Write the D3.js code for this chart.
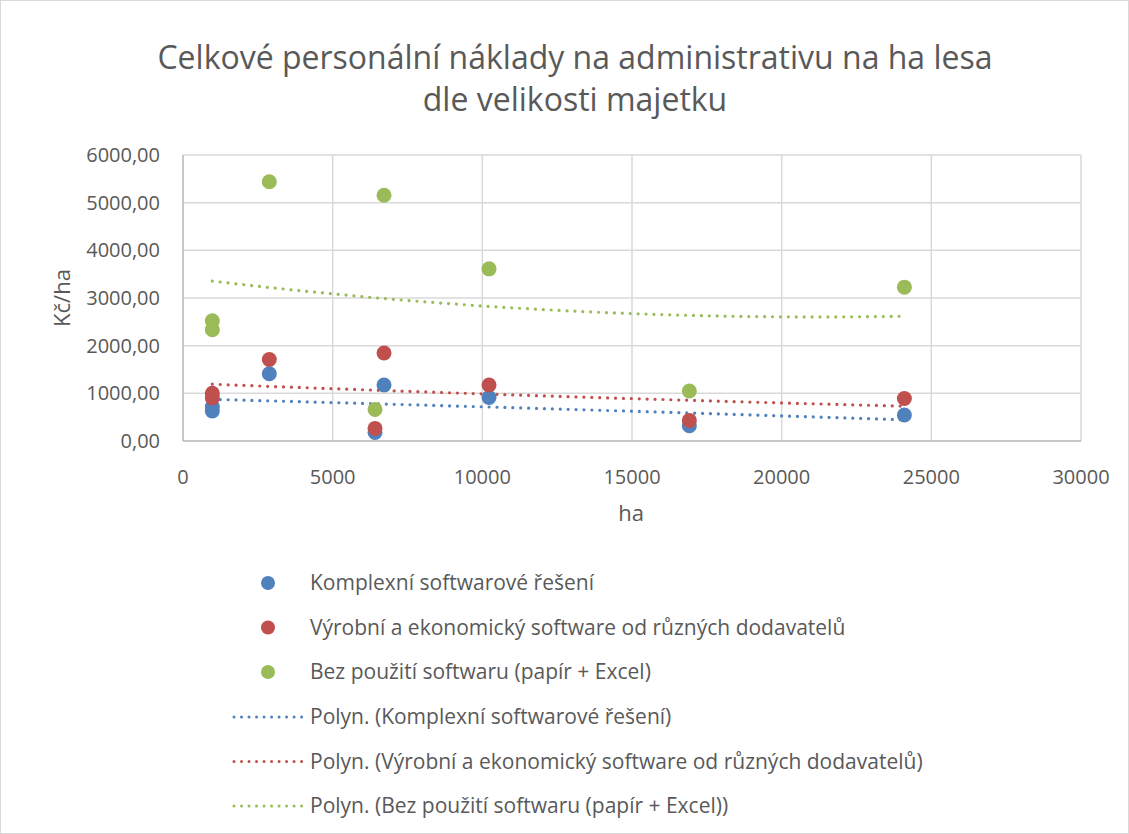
<!DOCTYPE html>
<html>
<head>
<meta charset="utf-8">
<script src="https://cdn.jsdelivr.net/npm/d3@7"></script>
<style>
  body { margin: 0; background: #fff; }
  text { font-family: "Open Sans", "Noto Sans", sans-serif; fill: #595959; }
</style>
</head>
<body>
<div id="chart"></div>
<script>
// values
var hectares = [980, 980, 2883, 6415, 6716, 10224, 16916, 24100];
var komplexni = [720, 630, 1411, 180, 1174, 914, 321, 545];
var vyrobni = [1000, 905, 1711, 264, 1845, 1174, 432, 893];
var bezSoftwaru = [2522, 2333, 5438, 663, 5157, 3612, 1048, 3228];
var seriesNames = [
  "Komplexní softwarové řešení",
  "Výrobní a ekonomický software od různých dodavatelů",
  "Bez použití softwaru (papír + Excel)"
];
var colors = ["#4F81BD", "#C0504D", "#9BBB59"];
var xTicks = [0, 5000, 10000, 15000, 20000, 25000, 30000];
var yTicks = [0, 1000, 2000, 3000, 4000, 5000, 6000];

var series = [komplexni, vyrobni, bezSoftwaru].map(function (vals, i) {
  return {
    name: seriesNames[i],
    color: colors[i],
    points: vals.map(function (v, j) { return { x: hectares[j], y: v }; })
  };
});

// quadratic least squares, as the Excel "Polyn." trendline does
function polyFit(pts) {
  var s = [0, 0, 0, 0, 0], t = [0, 0, 0];
  pts.forEach(function (p) {
    var xp = 1;
    for (var k = 0; k < 5; k++) { s[k] += xp; if (k < 3) t[k] += xp * p.y; xp *= p.x; }
  });
  var A = [[s[0], s[1], s[2], t[0]], [s[1], s[2], s[3], t[1]], [s[2], s[3], s[4], t[2]]];
  for (var c = 0; c < 3; c++) {
    for (var r = c + 1; r < 3; r++) {
      var f = A[r][c] / A[c][c];
      for (var k = c; k < 4; k++) A[r][k] -= f * A[c][k];
    }
  }
  var b = [0, 0, 0];
  for (var r = 2; r >= 0; r--) {
    var sum = A[r][3];
    for (var k = r + 1; k < 3; k++) sum -= A[r][k] * b[k];
    b[r] = sum / A[r][r];
  }
  return function (x) { return b[0] + b[1] * x + b[2] * x * x; };
}

var width = 1129, height = 834;
var margin = { top: 155, left: 183 };
var plotW = 898, plotH = 286;

var svg = d3.select("#chart").append("svg")
  .attr("width", width).attr("height", height);

var x = d3.scaleLinear().domain([0, 30000]).range([margin.left, margin.left + plotW]);
var y = d3.scaleLinear().domain([0, 6000]).range([margin.top + plotH, margin.top]);

var fmt = function (d) { return d3.format(".2f")(d).replace(".", ","); };

// title
svg.append("text")
  .attr("x", 575).attr("y", 69)
  .attr("text-anchor", "middle")
  .style("font-size", "32px").style("font-weight", 400)
  .selectAll("tspan")
  .data(["Celkové personální náklady na administrativu na ha lesa", "dle velikosti majetku"])
  .enter().append("tspan")
  .attr("x", 575).attr("dy", function (d, i) { return i ? 42 : 0; })
  .text(function (d) { return d; });

// gridlines
svg.append("g").selectAll("line").data(yTicks).enter().append("line")
  .attr("x1", margin.left).attr("x2", margin.left + plotW)
  .attr("y1", function (d) { return y(d); }).attr("y2", function (d) { return y(d); })
  .attr("stroke", "#d9d9d9").attr("stroke-width", 1.5);
svg.append("g").selectAll("line").data(xTicks).enter().append("line")
  .attr("y1", margin.top).attr("y2", margin.top + plotH)
  .attr("x1", function (d) { return x(d); }).attr("x2", function (d) { return x(d); })
  .attr("stroke", "#d9d9d9").attr("stroke-width", 1.5);

// axes lines
svg.append("line")
  .attr("x1", margin.left).attr("x2", margin.left + plotW)
  .attr("y1", y(0)).attr("y2", y(0))
  .attr("stroke", "#bfbfbf").attr("stroke-width", 1.5);
svg.append("line")
  .attr("x1", margin.left).attr("x2", margin.left)
  .attr("y1", y(0)).attr("y2", y(6000))
  .attr("stroke", "#bfbfbf").attr("stroke-width", 1.5);

// tick labels
svg.append("g").selectAll("text").data(yTicks).enter().append("text")
  .attr("x", 160).attr("y", function (d) { return y(d) + 7; })
  .attr("text-anchor", "end").style("font-size", "20px")
  .text(fmt);
svg.append("g").selectAll("text").data(xTicks).enter().append("text")
  .attr("x", function (d) { return x(d); }).attr("y", 484)
  .attr("text-anchor", "middle").style("font-size", "20px")
  .text(function (d) { return d; });

// axis titles
svg.append("text").attr("x", 631).attr("y", 521)
  .attr("text-anchor", "middle").style("font-size", "22px").text("ha");
svg.append("text")
  .attr("transform", "translate(70," + (margin.top + plotH / 2) + ") rotate(-90)")
  .attr("text-anchor", "middle").style("font-size", "22px").text("Kč/ha");

// trendlines
var line = d3.line().x(function (d) { return x(d.x); }).y(function (d) { return y(d.y); });
var trendX = d3.range(d3.min(hectares), d3.max(hectares) + 1, 200);
series.forEach(function (s) {
  var f = polyFit(s.points);
  svg.append("path")
    .datum(trendX.map(function (v) { return { x: v, y: f(v) }; }))
    .attr("d", line)
    .attr("fill", "none").attr("stroke", s.color)
    .attr("stroke-width", 3.2).attr("stroke-linecap", "round")
    .attr("stroke-dasharray", "0.01 7.9");
});

// points
series.forEach(function (s) {
  svg.append("g").selectAll("circle").data(s.points).enter().append("circle")
    .attr("cx", function (d) { return x(d.x); })
    .attr("cy", function (d) { return y(d.y); })
    .attr("r", 7.5).attr("fill", s.color);
});

// legend
var legend = svg.append("g");
series.forEach(function (s, i) {
  var ly = 583 + i * 44.5;
  legend.append("circle").attr("cx", 268).attr("cy", ly).attr("r", 7).attr("fill", s.color);
  legend.append("text").attr("x", 310).attr("y", ly + 7).style("font-size", "21px").text(s.name);
});
series.forEach(function (s, i) {
  var ly = 717 + i * 44.5;
  legend.append("line").attr("x1", 234).attr("x2", 302).attr("y1", ly).attr("y2", ly)
    .attr("stroke", s.color).attr("stroke-width", 3).attr("stroke-linecap", "round")
    .attr("stroke-dasharray", "0.01 7.5");
  legend.append("text").attr("x", 310).attr("y", ly + 7).style("font-size", "21px")
    .text("Polyn. (" + s.name + ")");
});

// outer border
svg.append("rect").attr("x", 0.5).attr("y", 0.5).attr("width", width - 1).attr("height", height - 1)
  .attr("fill", "none").attr("stroke", "#d9d9d9");
</script>
</body>
</html>
